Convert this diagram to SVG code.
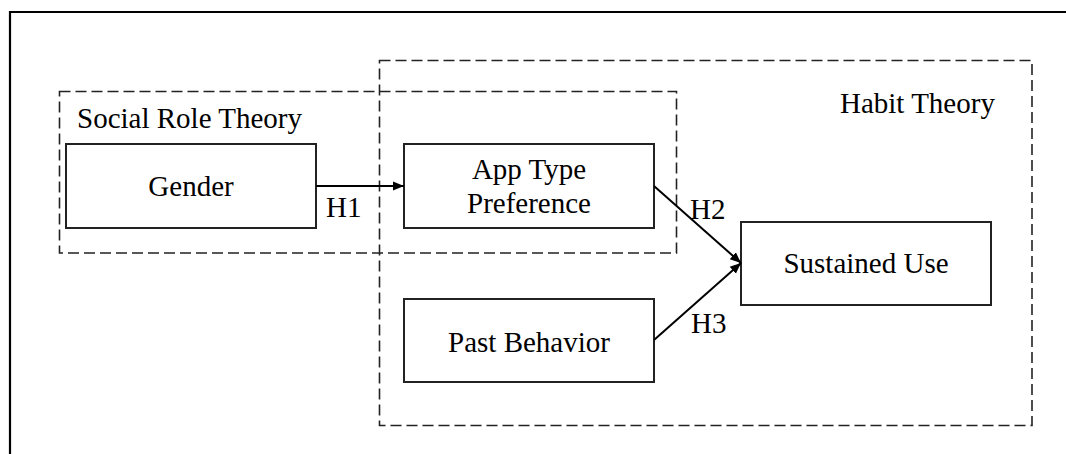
<svg xmlns="http://www.w3.org/2000/svg" width="1066" height="454" viewBox="0 0 1066 454">
<style>
.t{font-family:"Liberation Serif","Times New Roman",serif;font-size:29px;fill:#000}
.box{fill:#fff;stroke:#222;stroke-width:2}
.dash{fill:none;stroke:#222;stroke-width:1.6;stroke-dasharray:11 5}
.conn{stroke:#000;stroke-width:2;fill:none}
</style>
<defs>
<marker id="arr" viewBox="0 0 10 10" refX="10" refY="5" markerWidth="11" markerHeight="11" markerUnits="userSpaceOnUse" orient="auto">
<path d="M0,0.8 L10,5 L0,9.2 z" fill="#000"/>
</marker>
</defs>
<rect width="1066" height="454" fill="#fff"/>
<path d="M10,454 V12 H1066" fill="none" stroke="#000" stroke-width="2.2"/>
<g id="habit-theory">
<rect class="dash" x="379.5" y="60.5" width="652.5" height="365"/>
<text class="t" x="840" y="113">Habit Theory</text>
</g>
<g id="social-role-theory">
<rect class="dash" x="59.5" y="91.5" width="617" height="161.5"/>
<text class="t" x="77" y="128">Social Role Theory</text>
</g>
<g id="gender">
<rect class="box" x="66" y="144" width="250" height="84"/>
<text class="t" x="191" y="196" text-anchor="middle">Gender</text>
</g>
<g id="app-type">
<rect class="box" x="404" y="144" width="250" height="84"/>
<text class="t" x="529" y="179" text-anchor="middle">App Type</text>
<text class="t" x="529" y="213" text-anchor="middle">Preference</text>
</g>
<g id="past-behavior">
<rect class="box" x="404" y="299" width="250" height="83"/>
<text class="t" x="529" y="352" text-anchor="middle">Past Behavior</text>
</g>
<g id="sustained-use">
<rect class="box" x="741" y="222" width="250" height="83"/>
<text class="t" x="866" y="273" text-anchor="middle">Sustained Use</text>
</g>
<g id="connectors">
<line class="conn" x1="316" y1="186" x2="404" y2="186" marker-end="url(#arr)"/>
<line class="conn" x1="654" y1="186" x2="741" y2="263" marker-end="url(#arr)"/>
<line class="conn" x1="654" y1="340" x2="741" y2="263" marker-end="url(#arr)"/>
<text class="t" x="326" y="217">H1</text>
<text class="t" x="690" y="219">H2</text>
<text class="t" x="691" y="333">H3</text>
</g>
</svg>
